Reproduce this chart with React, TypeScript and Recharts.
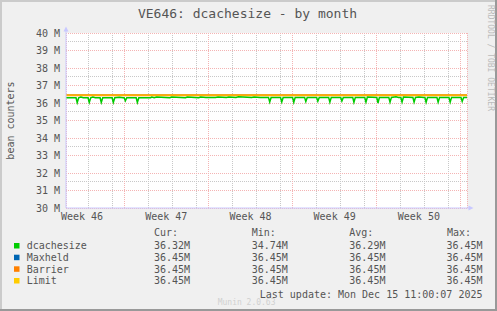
import { CartesianGrid, Line, LineChart, ReferenceDot, XAxis, YAxis } from "recharts";

const FONT = "'DejaVu Sans Mono', monospace";
const INK = "#555555";
const AXIS = "#C8C8FF";

// x: days since Mon 10 Nov 2025 00:00, y: millions
const X0 = 2.1667;
const X1 = 35.5;

const dcacheDay = [
  2.1667, 3.0, 3.1, 3.22, 3.4, 3.6, 4.0, 4.1, 4.22, 4.4, 4.6, 5.0, 5.1, 5.22, 6.0, 6.1, 6.22,
  6.6, 6.9, 7.0, 7.1, 7.22, 8.0, 8.1, 8.22, 9.2, 9.3, 9.5, 9.7, 10.8, 10.95, 12.1, 12.25,
  13.2, 13.35, 13.8, 14.0, 14.6, 14.8, 15.5, 15.7, 16.3, 16.5, 17.6, 17.8, 18.3, 18.5, 19.0,
  19.1, 19.22, 20.0, 20.1, 20.22, 21.0, 21.1, 21.22, 22.0, 22.1, 22.22, 23.0, 23.1, 23.22,
  24.0, 24.1, 24.22, 25.0, 25.1, 25.22, 26.0, 26.1, 26.22, 27.0, 27.1, 27.22, 28.0, 28.1,
  28.22, 29.0, 29.1, 29.22, 29.6, 29.8, 30.0, 30.1, 30.22, 31.0, 31.1, 31.22, 31.5, 31.9,
  32.0, 32.1, 32.22, 33.0, 33.1, 33.22, 34.0, 34.1, 34.22, 35.0, 35.1, 35.22, 35.5,
];
const dcacheM = [
  36.3, 36.3, 36.02, 36.3, 36.34, 36.3, 36.3, 36.03, 36.3, 36.34, 36.3, 36.3, 36.03, 36.3, 36.3, 36.03, 36.3,
  36.33, 36.3, 36.3, 36.12, 36.3, 36.3, 36.03, 36.3, 36.3, 36.34, 36.3, 36.34, 36.3, 36.34, 36.3, 36.34,
  36.3, 36.34, 36.32, 36.32, 36.32, 36.34, 36.32, 36.34, 36.32, 36.35, 36.32, 36.34, 36.32, 36.32, 36.32,
  36.06, 36.32, 36.32, 36.06, 36.32, 36.32, 36.04, 36.32, 36.32, 36.08, 36.32, 36.32, 36.1, 36.32,
  36.32, 36.05, 36.32, 36.32, 36.11, 36.32, 36.32, 36.04, 36.32, 36.32, 36.05, 36.34, 36.32, 36.0,
  36.32, 36.32, 36.05, 36.32, 36.35, 36.32, 36.32, 36.05, 36.34, 36.32, 36.05, 36.32, 36.34, 36.32,
  36.32, 36.04, 36.32, 36.32, 36.05, 36.32, 36.32, 36.05, 36.32, 36.32, 36.09, 36.32, 36.32,
];
const flatDay = [X0, X1];
const maxheldM = [36.45, 36.45];
const barrierM = [36.45, 36.45];
const limitM = [36.45, 36.45];

const weekTicks = [3.5, 10.5, 17.5, 24.5, 31.5];
const weekLabels = ["Week 46", "Week 47", "Week 48", "Week 49", "Week 50"];
const dayGrid = [3, 4, 5, 6, 8, 9, 10, 11, 12, 13, 15, 16, 17, 18, 19, 20, 22, 23, 24, 25, 26, 27, 29, 30, 31, 32, 33, 34];
const mondayGrid = [7, 14, 21, 28, 35];
const mTicks = [30, 31, 32, 33, 34, 35, 36, 37, 38, 39, 40];
const halfGrid = [30.5, 31.5, 32.5, 33.5, 34.5, 35.5, 36.5, 37.5, 38.5, 39.5];

const legendNames = ["dcachesize", "Maxheld", "Barrier", "Limit"];
const legendColors = ["#00CC00", "#0066B3", "#FF8000", "#FFCC00"];
const curText = ["36.32M", "36.45M", "36.45M", "36.45M"];
const minText = ["34.74M", "36.45M", "36.45M", "36.45M"];
const avgText = ["36.29M", "36.45M", "36.45M", "36.45M"];
const maxText = ["36.45M", "36.45M", "36.45M", "36.45M"];

const toRows = (days: number[], vals: number[]) => days.map((d, i) => ({ d, v: vals[i] }));

const RightArrow = (p: any) => (
  <g>
    <line x1={p.cx} y1={p.cy} x2={p.cx + 2} y2={p.cy} stroke={AXIS} />
    <polygon points={`${p.cx + 1.5},${p.cy - 2.5} ${p.cx + 6.5},${p.cy} ${p.cx + 1.5},${p.cy + 2.5}`} fill={AXIS} />
  </g>
);
const UpArrow = (p: any) => (
  <g>
    <line x1={p.cx} y1={p.cy} x2={p.cx} y2={p.cy - 2} stroke={AXIS} />
    <polygon points={`${p.cx - 2.5},${p.cy - 1.5} ${p.cx},${p.cy - 6.5} ${p.cx + 2.5},${p.cy - 1.5}`} fill={AXIS} />
  </g>
);

const tickStyle = { fontSize: 10, fill: INK, fontFamily: FONT };
const rowY = [249.3, 261, 272.6, 284.3];

export default function App() {
  return (
    <div style={{ position: "absolute", left: 0, top: 0, width: 497, height: 311, background: "#F0F0F0" }}>
      <LineChart width={497} height={311} margin={{ top: 33, right: 30, bottom: 83, left: 6 }}>
        <XAxis xAxisId="day" dataKey="d" type="number" domain={[X0, X1]} ticks={dayGrid} hide allowDataOverflow />
        <XAxis xAxisId="mon" dataKey="d" type="number" domain={[X0, X1]} ticks={mondayGrid} hide allowDataOverflow />
        <YAxis yAxisId="half" type="number" domain={[30, 40]} ticks={halfGrid} hide allowDataOverflow />
        <CartesianGrid
          xAxisId="day"
          yAxisId="half"
          fill="#FFFFFF"
          stroke="#C8C8C8"
          strokeDasharray="1 1"
          shapeRendering="crispEdges"
        />
        <CartesianGrid xAxisId="mon" yAxisId={0} stroke="#F4B4B4" strokeDasharray="1 1" shapeRendering="crispEdges" />
        <XAxis
          dataKey="d"
          type="number"
          domain={[X0, X1]}
          allowDataOverflow
          ticks={weekTicks}
          interval={0}
          tickFormatter={(v: number) => weekLabels[weekTicks.indexOf(v)] ?? ""}
          tick={tickStyle}
          tickLine={false}
          tickSize={3}
          tickMargin={2}
          height={20}
          axisLine={{ stroke: AXIS }}
        />
        <YAxis
          type="number"
          domain={[30, 40]}
          allowDataOverflow
          ticks={mTicks}
          interval={0}
          tickFormatter={(v: number) => `${v} M`}
          tick={tickStyle}
          tickLine={false}
          tickSize={4}
          tickMargin={2}
          width={60}
          axisLine={{ stroke: AXIS }}
        />
        <Line data={toRows(flatDay, maxheldM)} dataKey="v" stroke="#0066B3" strokeWidth={1} dot={false} isAnimationActive={false} />
        <Line data={toRows(flatDay, barrierM)} dataKey="v" stroke="#FF8000" strokeWidth={2} dot={false} isAnimationActive={false} />
        <Line data={toRows(flatDay, limitM)} dataKey="v" stroke="#FFCC00" strokeWidth={1} dot={false} isAnimationActive={false} />
        <Line data={toRows(dcacheDay, dcacheM)} dataKey="v" stroke="#00CC00" strokeWidth={1.5} dot={false} isAnimationActive={false} />
        <ReferenceDot x={X1} y={30} r={0} shape={RightArrow} ifOverflow="visible" />
        <ReferenceDot x={X0} y={40} r={0} shape={UpArrow} ifOverflow="visible" />
      </LineChart>
      <svg width={497} height={311} style={{ position: "absolute", left: 0, top: 0, pointerEvents: "none" }}>
        <line x1={0} y1={1} x2={497} y2={1} stroke="#CBCBCB" strokeWidth={2} />
        <line x1={1} y1={0} x2={1} y2={311} stroke="#CBCBCB" strokeWidth={2} />
        <line x1={0} y1={310} x2={497} y2={310} stroke="#999999" strokeWidth={2} />
        <line x1={496} y1={0} x2={496} y2={311} stroke="#999999" strokeWidth={2} />
        <text x={247.5} y={18} textAnchor="middle" fontFamily={FONT} fontSize={13} fill={INK}>
          VE646: dcachesize - by month
        </text>
        <text x={14} y={120.5} transform="rotate(-90 14 120.5)" textAnchor="middle" fontFamily={FONT} fontSize={10} fill={INK}>
          bean counters
        </text>
        <text x={488} y={5} transform="rotate(90 488 5)" fontFamily={FONT} fontSize={8} fill="#BBBBBB">
          RRDTOOL / TOBI OETIKER
        </text>
        <g fontFamily={FONT} fontSize={10} fill={INK}>
          <text x={154} y={236}>Cur:</text>
          <text x={251.7} y={236}>Min:</text>
          <text x={349.3} y={236}>Avg:</text>
          <text x={447} y={236}>Max:</text>
          {legendNames.map((n, i) => (
            <g key={n}>
              <rect x={14} y={rowY[i] - 6.3} width={5.5} height={5.5} fill={legendColors[i]} />
              <text x={26.7} y={rowY[i]}>{n}</text>
              <text x={154} y={rowY[i]}>{curText[i]}</text>
              <text x={251.7} y={rowY[i]}>{minText[i]}</text>
              <text x={349.3} y={rowY[i]}>{avgText[i]}</text>
              <text x={482.5} y={rowY[i]} textAnchor="end">{maxText[i]}</text>
            </g>
          ))}
          <text x={482.5} y={297.5} textAnchor="end">Last update: Mon Dec 15 11:00:07 2025</text>
        </g>
        <text x={217.7} y={304.5} fontFamily={FONT} fontSize={8} fill="#D0D0D0">
          Munin 2.0.63
        </text>
      </svg>
    </div>
  );
}
